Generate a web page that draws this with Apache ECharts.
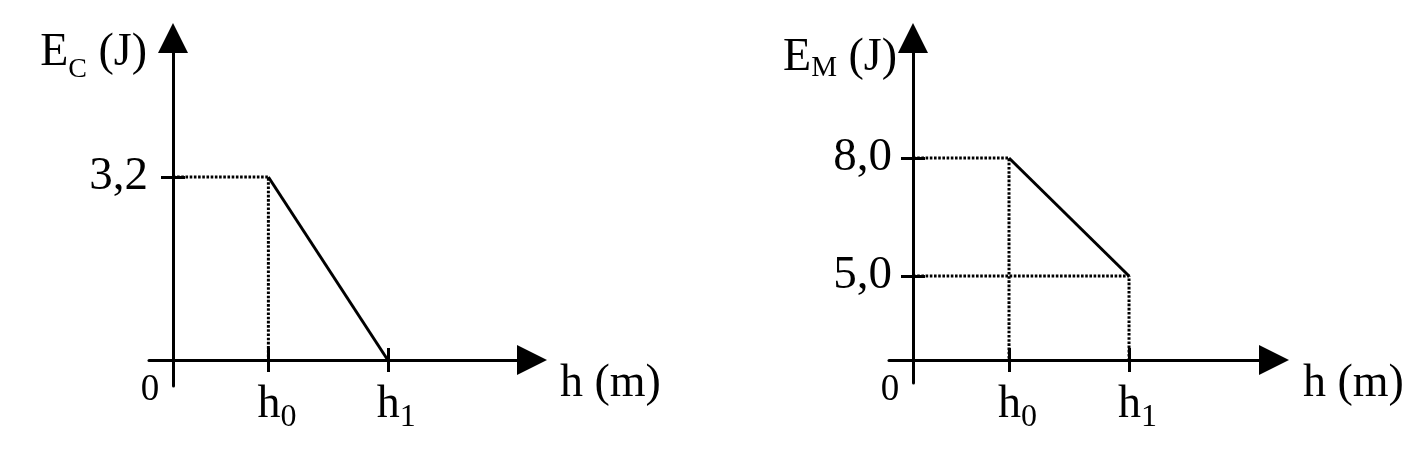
<!DOCTYPE html>
<html>
<head>
<meta charset="utf-8">
<script src="https://cdn.jsdelivr.net/npm/echarts@6/dist/echarts.min.js"></script>
<style>
html,body{margin:0;padding:0;background:#fff;}
#c{width:1402px;height:465px;}
</style>
</head>
<body>
<div id="c"></div>
<script>
// ---------------- data ----------------
// h axis: schematic positions of h0 and h1 (same in both panels)
const hTickValues = [1, 2.25];
const hTickSubs = ['0', '1'];
const originLabel = '0';

// Left panel: kinetic energy E_C (J) vs h (m)
const ecH = [1, 2.25];
const ecValues = [3.2, 0];
const ecTickValues = [3.2];
const ecTickLabels = ['3,2'];

// Right panel: mechanical energy E_M (J) vs h (m)
const emH = [1, 2.25];
const emValues = [8.0, 5.0];
const emTickValues = [8.0, 5.0];
const emTickLabels = ['8,0', '5,0'];
const emAxisBase = 2.86; // energy value where the (broken) E_M axis meets the h axis

// ---------------- style ----------------
const FONT = "'Liberation Serif','Times New Roman',serif";
const BLACK = '#000';

function pairs(xs, ys) { return xs.map((x, i) => [x, ys[i]]); }
function findIdx(arr, v) { return arr.findIndex(a => Math.abs(a - v) < 1e-6); }

function hLabelFormatter(v) {
  if (Math.abs(v) < 1e-9) return '{z|' + originLabel + '}';
  const i = findIdx(hTickValues, v);
  return i < 0 ? '' : '{h|h}{s|' + hTickSubs[i] + '}';
}
const hRich = {
  h: { fontFamily: FONT, fontSize: 46, lineHeight: 58, color: BLACK, padding: [0, 0, 0, 17] },
  s: { fontFamily: FONT, fontSize: 32, lineHeight: 12, verticalAlign: 'bottom', color: BLACK },
  z: { fontFamily: FONT, fontSize: 37, lineHeight: 29, color: BLACK, padding: [0, 46, 0, 0] }
};

const lineW = 3;
const tickStyle = { color: BLACK, width: 3 };

function xAxisMain(grid, offset, nameGap) {
  return {
    gridIndex: grid, type: 'value', min: -0.25, max: 3.76, position: 'bottom', offset: offset,
    axisLine: { show: true, onZero: false, symbol: ['none', 'triangle'], symbolSize: [30, 30],
      lineStyle: { color: BLACK, width: lineW } },
    axisTick: { show: true, customValues: hTickValues, length: 12, inside: false, lineStyle: tickStyle },
    axisLabel: { show: true, customValues: [0].concat(hTickValues), formatter: hLabelFormatter,
      margin: 16, rich: hRich },
    splitLine: { show: false },
    name: 'h (m)', nameLocation: 'end', nameGap: nameGap, nameMoveOverlap: false,
    nameTextStyle: { fontFamily: FONT, fontSize: 46, lineHeight: 48, color: BLACK, align: 'left', verticalAlign: 'top' }
  };
}
function xAxisInner(grid, offset) {
  return {
    gridIndex: grid, type: 'value', min: -0.25, max: 3.76, position: 'bottom', offset: offset,
    axisLine: { show: false, onZero: false },
    axisTick: { show: true, customValues: hTickValues, length: 12, inside: true, lineStyle: tickStyle },
    axisLabel: { show: false },
    splitLine: { show: false }
  };
}
function yAxisMain(grid, min, max, offset, vals, labels, margin, labelPadTop, sub, nameGap, nameRight, mainLH, subSize) {
  return {
    gridIndex: grid, type: 'value', min: min, max: max, position: 'left', offset: offset,
    axisLine: { show: true, onZero: false, symbol: ['none', 'triangle'], symbolSize: [30, 30],
      lineStyle: { color: BLACK, width: lineW } },
    axisTick: { show: true, customValues: vals, length: 12, inside: false, lineStyle: tickStyle },
    axisLabel: { show: true, customValues: vals, margin: margin,
      formatter: v => { const i = findIdx(vals, v); return i < 0 ? '' : labels[i]; },
      fontFamily: FONT, fontSize: 47, color: BLACK, padding: [labelPadTop, 0, 0, 0] },
    splitLine: { show: false },
    name: '{e|E}{s|' + sub + '}{e| (J)}', nameLocation: 'end', nameGap: nameGap, nameMoveOverlap: false,
    nameTextStyle: { align: 'right', verticalAlign: 'middle', padding: [0, nameRight, 0, 0],
      rich: {
        e: { fontFamily: FONT, fontSize: 46, lineHeight: mainLH, color: BLACK },
        s: { fontFamily: FONT, fontSize: subSize, lineHeight: 12, verticalAlign: 'bottom', color: BLACK }
      } }
  };
}
function yAxisInner(grid, min, max, offset, vals) {
  return {
    gridIndex: grid, type: 'value', min: min, max: max, position: 'left', offset: offset,
    axisLine: { show: false, onZero: false },
    axisTick: { show: true, customValues: vals, length: 12, inside: true, lineStyle: tickStyle },
    axisLabel: { show: false },
    splitLine: { show: false }
  };
}

const dotted = { color: BLACK, width: 3, type: [2.6, 1.6] };
const solid = { color: BLACK, width: 3 };

const option = {
  backgroundColor: '#fff',
  animation: false,
  grid: [
    { left: 149, top: 38, width: 383, height: 348, outerBoundsMode: 'none', containLabel: false },
    { left: 889, top: 38, width: 385, height: 345, outerBoundsMode: 'none', containLabel: false }
  ],
  xAxis: [
    xAxisMain(0, -26, 28),
    xAxisInner(0, -26),
    xAxisMain(1, -23, 29),
    xAxisInner(1, -23)
  ],
  yAxis: [
    yAxisMain(0, -0.455, 5.63, -24, ecTickValues, ecTickLabels, 25, 14, 'C', -15, 26, 61, 28),
    yAxisInner(0, -0.455, 5.63, -24, ecTickValues),
    yAxisMain(1, 2.28, 11.05, -24, emTickValues, emTickLabels, 21, 6, 'M', -20, 16, 50, 29),
    yAxisInner(1, 2.28, 11.05, -24, emTickValues)
  ],
  series: [
    { type: 'line', xAxisIndex: 0, yAxisIndex: 0, silent: true, symbol: 'none', lineStyle: dotted, z: 1,
      data: [[0, ecValues[0]], [ecH[0], ecValues[0]], [ecH[0], 0]] },
    { type: 'line', xAxisIndex: 0, yAxisIndex: 0, silent: true, symbol: 'none', lineStyle: solid, z: 2,
      data: pairs(ecH, ecValues) },
    { type: 'line', xAxisIndex: 2, yAxisIndex: 2, silent: true, symbol: 'none', lineStyle: dotted, z: 1,
      data: [[0, emValues[0]], [emH[0], emValues[0]], [emH[0], emAxisBase]] },
    { type: 'line', xAxisIndex: 2, yAxisIndex: 2, silent: true, symbol: 'none', lineStyle: dotted, z: 1,
      data: [[0, emValues[1]], [emH[1], emValues[1]], [emH[1], emAxisBase]] },
    { type: 'line', xAxisIndex: 2, yAxisIndex: 2, silent: true, symbol: 'none', lineStyle: solid, z: 2,
      data: pairs(emH, emValues) }
  ]
};

const chart = echarts.init(document.getElementById('c'), null, { renderer: 'canvas' });
chart.setOption(option);
</script>
</body>
</html>
